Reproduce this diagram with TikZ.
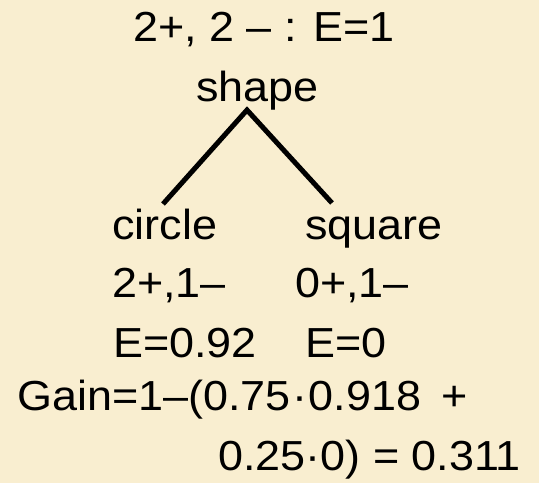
\documentclass[tikz,border=0pt]{standalone}
\usepackage{fontspec}
\setmainfont{Liberation Sans}[FakeStretch=1.07]
\definecolor{parch}{HTML}{F9EED0}
\begin{document}
\begin{tikzpicture}[x=1pt,y=-1pt,
  txt/.style={font=\fontsize{42}{50}\selectfont, inner sep=0pt, anchor=base west},
  ctxt/.style={txt, anchor=base},
  branch/.style={line width=5pt, line join=miter, line cap=butt}]
\fill[parch] (0,0) rectangle (539,483);
\useasboundingbox (0,0) rectangle (539,483);
\node[ctxt] (root) at (264,41) {2+, 2 – : E=1};
\node[ctxt] (shape) at (257.5,101) {shape};
\coordinate (apex) at (247,110);
\coordinate (cend) at (163,204);
\coordinate (send) at (332,203);
\draw[branch] (cend) -- (apex) -- (send);
\node[txt] (circle) at (112,239) {circle};
\node[txt] (square) at (305,239) {square};
\node[txt] (ccount) at (112,297) {2+,1–};
\node[txt] (scount) at (295,297) {0+,1–};
\node[txt] (cent) at (113,357) {E=0.92};
\node[txt] (sent) at (305,357) {E=0};
\node[txt] (gain1) at (17,410) {Gain=1–(0.75\hspace{1.5pt}·\hspace{1.5pt}0.918\hspace{8pt} +};
\node[txt] (gain2) at (218,470) {0.25·0) = 0.311};
\end{tikzpicture}
\end{document}
